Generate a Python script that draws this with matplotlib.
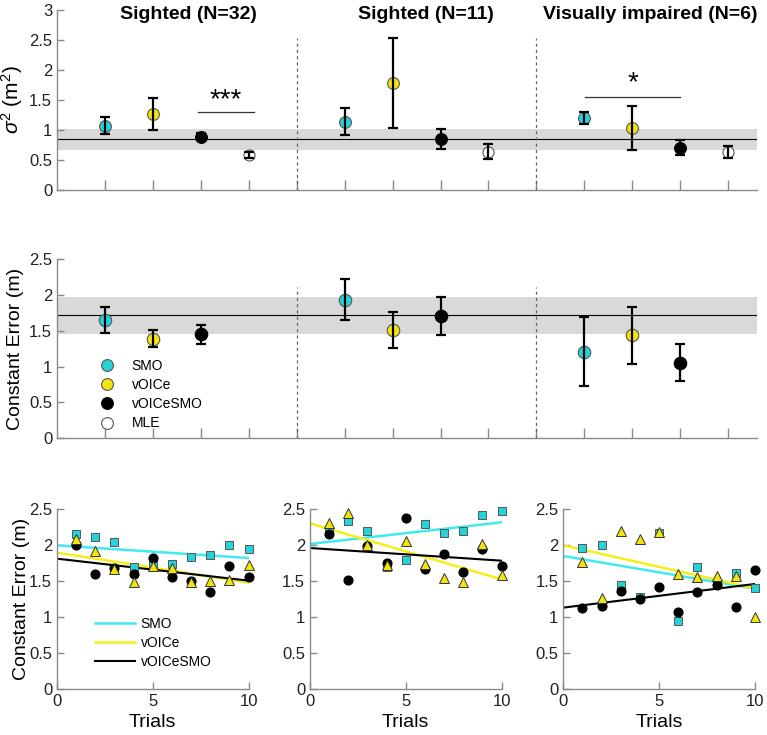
import numpy as np
import matplotlib
matplotlib.use("Agg")
import matplotlib.pyplot as plt

plt.rcParams['font.family'] = ['Liberation Sans', 'DejaVu Sans']
plt.rcParams['mathtext.fontset'] = 'custom'
plt.rcParams['mathtext.rm'] = 'Liberation Sans'
plt.rcParams['mathtext.it'] = 'Liberation Sans:italic'

# ---- data ----
groups = ['Sighted (N=32)', 'Sighted (N=11)', 'Visually impaired (N=6)']
group_x = [[1, 2, 3, 4], [6, 7, 8, 9], [11, 12, 13, 14]]
conds = ['SMO', 'vOICe', 'vOICeSMO', 'MLE']

# variance panel (m^2)
var_smo = [1.07, 1.14, 1.20]
var_smo_err = [0.14, 0.23, 0.10]
var_voice = [1.27, 1.78, 1.03]
var_voice_err = [0.27, 0.75, 0.37]
var_vs = [0.89, 0.845, 0.705]
var_vs_err = [0.06, 0.17, 0.12]
var_mle = [0.58, 0.64, 0.64]
var_mle_err = [0.05, 0.12, 0.10]
var_band = [0.67, 1.01]
var_ref = 0.845

# constant error panel (m)
ce_smo = [1.65, 1.935, 1.21]
ce_smo_err = [0.185, 0.285, 0.48]
ce_voice = [1.39, 1.51, 1.44]
ce_voice_err = [0.12, 0.25, 0.40]
ce_vs = [1.45, 1.71, 1.055]
ce_vs_err = [0.135, 0.265, 0.255]
ce_band = [1.45, 1.98]
ce_ref = 1.72

# per-trial constant error, one list per group
trials = np.arange(1, 11)
trial_smo = [
    [2.15, 2.11, 2.04, 1.70, 1.72, 1.74, 1.83, 1.86, 2.00, 1.94],
    [2.19, 2.33, 2.20, 1.69, 1.79, 2.29, 2.17, 2.19, 2.42, 2.47],
    [1.96, 2.00, 1.44, 1.28, 2.17, 0.94, 1.69, 1.46, 1.61, 1.40],
]
trial_voice = [
    [2.08, 1.92, 1.66, 1.48, 1.71, 1.68, 1.49, 1.50, 1.51, 1.72],
    [2.30, 2.45, 2.00, 1.72, 2.05, 1.73, 1.54, 1.48, 2.01, 1.59],
    [1.76, 1.26, 2.20, 2.08, 2.18, 1.60, 1.55, 1.57, 1.57, 1.00],
]
trial_vs = [
    [2.00, 1.60, 1.68, 1.60, 1.82, 1.55, 1.50, 1.35, 1.71, 1.55],
    [2.15, 1.52, 1.98, 1.75, 2.37, 1.66, 1.88, 1.62, 1.94, 1.71],
    [1.12, 1.15, 1.36, 1.25, 1.42, 1.07, 1.35, 1.45, 1.14, 1.65],
]
# fitted lines: value at trial 0 and trial 10
fit_smo = [[1.995, 1.819], [2.014, 2.315], [1.847, 1.394]]
fit_voice = [[1.894, 1.477], [2.30, 1.523], [1.995, 1.398]]
fit_vs = [[1.81, 1.505], [1.958, 1.782], [1.13, 1.458]]

# ---- styles ----
cyan = '#25d2d8'
cyan_line = '#40eaee'
yellow = '#f2e40c'
yellow_line = '#f5ee1a'
edge = '#555555'
spine_c = '#8a8a8a'
band_c = '#d9d9d9'

fig = plt.figure(figsize=(7.67, 7.35), dpi=100)


def style_axes(ax):
    ax.spines['top'].set_visible(False)
    ax.spines['right'].set_visible(False)
    for s in ['left', 'bottom']:
        ax.spines[s].set_color(spine_c)
        ax.spines[s].set_linewidth(1.0)
    ax.tick_params(direction='in', colors=spine_c, labelcolor='#222222',
                   labelsize=12, length=5, width=1.0)


def point(ax, x, y, err, fc, ec, ms):
    ax.plot(x, y, 'o', ms=ms, mfc=fc, mec=ec, mew=0.8, zorder=4)
    ax.errorbar(x, y, yerr=err, fmt='none', ecolor='black', elinewidth=1.6,
                capsize=3.5, capthick=1.6, zorder=5)


# top: variance, middle: constant error
ax1 = fig.add_axes([0.0743, 0.7415, 0.9126, 0.2449])
ax2 = fig.add_axes([0.0743, 0.4037, 0.9126, 0.2435])

for ax, band, ref, top in [(ax1, var_band, var_ref, 3), (ax2, ce_band, ce_ref, 2.5)]:
    style_axes(ax)
    ax.set_xlim(0, 14.6)
    ax.set_ylim(0, top)
    ax.set_xticks(range(1, 15))
    ax.set_xticklabels([])
    ax.tick_params(axis='x', length=7)
    ax.axhspan(band[0], band[1], color=band_c, lw=0, zorder=1)
    ax.axhline(ref, color='black', lw=0.8, zorder=2)
    for xv in [5, 10]:
        ax.plot([xv, xv], [0, 0.845 * top], color='#666666', lw=0.9,
                ls=(0, (2.5, 2.5)), zorder=2)

for g in range(3):
    xs = group_x[g]
    point(ax1, xs[0], var_smo[g], var_smo_err[g], cyan, edge, 8.5)
    point(ax1, xs[1], var_voice[g], var_voice_err[g], yellow, edge, 8.5)
    point(ax1, xs[2], var_vs[g], var_vs_err[g], 'black', 'black', 8.5)
    point(ax1, xs[3], var_mle[g], var_mle_err[g], 'white', edge, 8)
    point(ax2, xs[0], ce_smo[g], ce_smo_err[g], cyan, edge, 9)
    point(ax2, xs[1], ce_voice[g], ce_voice_err[g], yellow, edge, 9)
    point(ax2, xs[2], ce_vs[g], ce_vs_err[g], 'black', 'black', 9)

title_x = [2.75, 7.7, 12.38]
for g in range(3):
    ax1.text(title_x[g], 2.93, groups[g], ha='center', va='center',
             fontsize=14, fontweight='bold', clip_on=False)

# significance marks
ax1.plot([2.95, 4.1], [1.3, 1.3], color='#333333', lw=0.9)
ax1.text(3.52, 1.5, '***', ha='center', va='center', fontsize=20)
ax1.plot([11.02, 13.0], [1.555, 1.555], color='#333333', lw=0.9)
ax1.text(12.02, 1.78, '*', ha='center', va='center', fontsize=20)

ax1.set_yticks([0, 0.5, 1, 1.5, 2, 2.5, 3])
ax1.set_yticklabels(['0', '0.5', '1', '1.5', '2', '2.5', '3'])
ax1.set_ylabel(r'$\sigma^2$ (m$^2$)', fontsize=15)
ax1.yaxis.set_label_coords(-0.045, 0.5)

ax2.set_yticks([0, 0.5, 1, 1.5, 2, 2.5])
ax2.set_yticklabels(['0', '0.5', '1', '1.5', '2', '2.5'])
ax2.set_ylabel('Constant Error (m)', fontsize=14)
ax2.yaxis.set_label_coords(-0.047, 0.5)

# legend for the means
h = []
for fc, ec in [(cyan, edge), (yellow, edge), ('black', 'black'), ('white', edge)]:
    h.append(ax2.plot([], [], 'o', ms=8.5, mfc=fc, mec=ec, mew=0.8)[0])
ax2.legend(h, conds, loc='upper left', bbox_to_anchor=(0.061, 0.445),
           frameon=False, fontsize=10, handlelength=1.0, handletextpad=1.3,
           labelspacing=0.38, borderpad=0, borderaxespad=0)

# bottom: trial-by-trial
lefts = [0.0743, 0.4042, 0.7344]
for g in range(3):
    ax = fig.add_axes([lefts[g], 0.0626, 0.2497, 0.2449])
    style_axes(ax)
    ax.set_xlim(0, 10)
    ax.set_ylim(0, 2.5)
    ax.set_xticks([0, 5, 10])
    ax.set_yticks([0, 0.5, 1, 1.5, 2, 2.5])
    ax.set_yticklabels(['0', '0.5', '1', '1.5', '2', '2.5'])
    ax.set_xlabel('Trials', fontsize=14)

    ax.plot([0, 10], fit_smo[g], color=cyan_line, lw=1.8, zorder=2, label='SMO')
    ax.plot([0, 10], fit_voice[g], color=yellow_line, lw=1.8, zorder=2, label='vOICe')
    ax.plot([0, 10], fit_vs[g], color='black', lw=1.5, zorder=2, label='vOICeSMO')

    ax.plot(trials, trial_smo[g], 's', ms=5.2, mfc=cyan, mec=edge, mew=0.7,
            zorder=3, clip_on=False)
    ax.plot(trials, trial_vs[g], 'o', ms=6.3, mfc='black', mec='black',
            zorder=4, clip_on=False)
    ax.plot(trials, trial_voice[g], '^', ms=7.2, mfc=yellow, mec='#333333',
            mew=0.7, zorder=5, clip_on=False)

    if g == 0:
        ax.set_ylabel('Constant Error (m)', fontsize=14)
        ax.yaxis.set_label_coords(-0.14, 0.5)
        ax.legend(loc='upper left', bbox_to_anchor=(0.198, 0.40), frameon=False,
                  fontsize=10, handlelength=2.9, handletextpad=0.4,
                  labelspacing=0.35, borderpad=0, borderaxespad=0)

fig.savefig('out.png', dpi=100)
